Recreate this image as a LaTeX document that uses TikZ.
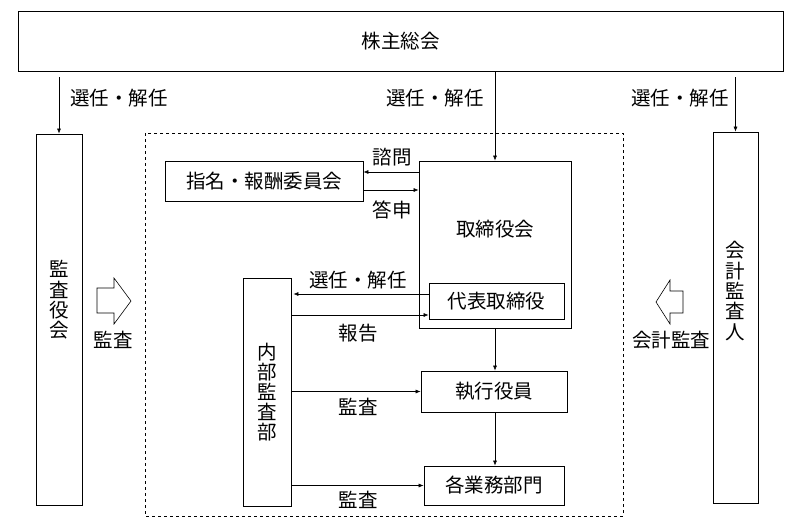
\documentclass[tikz,border=0pt]{standalone}
\usepackage{fontspec}
\setmainfont{Noto Sans CJK JP}
\usetikzlibrary{arrows.meta,calc}

\begin{document}
\begin{tikzpicture}[x=1pt,y=-1pt,
    box/.style={draw,line width=0.8pt,inner sep=0pt,align=center,font=\fontsize{19.5}{20}\selectfont},
    txt/.style={inner sep=0pt,font=\fontsize{19.5}{20.3}\selectfont,align=center},
    arr/.style={-{Latex[length=5pt,width=4pt]},line width=0.6pt}]
\useasboundingbox (0,0) rectangle (795,523);
\draw[line width=0.6pt,dashed] (145,133) rectangle (623,516);
% boxes
\node[box,minimum width=765pt,minimum height=60pt] (soukai) at (400.5,41) {株主総会};
\node[box,minimum width=46pt,minimum height=371pt] (kansayaku) at (59,319.5) {};
\node[txt] (kansayakut) at (59,300) {監\\査\\役\\会};
\node[box,minimum width=45pt,minimum height=371pt] (kaikei) at (735.5,317.5) {};
\node[txt] (kaikeit) at (735.5,291) {会\\計\\監\\査\\人};
\node[box,minimum width=152pt,minimum height=167pt] (torishimari) at (495,244.5) {};
\node[txt] (torishimarit) at (495,229) {取締役会};
\node[box,minimum width=198pt,minimum height=40pt] (shimei) at (264,181) {指名・報酬委員会};
\node[box,minimum width=135pt,minimum height=36pt] (daihyo) at (496.5,301) {代表取締役};
\node[box,minimum width=48pt,minimum height=228pt] (naibu) at (267,392) {内\\部\\監\\査\\部};
\node[box,minimum width=146pt,minimum height=41pt] (shikko) at (494,391.5) {執行役員};
\node[box,minimum width=140pt,minimum height=39pt] (gyomu) at (494,485.5) {各業務部門};
% arrows
\draw[arr] ($(soukai.south -| kansayaku.north)+(0,6)$) -- (kansayaku.north);
\draw[arr] ($(soukai.south -| kaikei.north)+(0,6)$) -- (kaikei.north);
\draw[arr] (soukai.south -| torishimari.north) -- (torishimari.north);
\draw[arr] (torishimari.west |- 0,172) -- (shimei.east |- 0,172);
\draw[arr] (shimei.east |- 0,190) -- (torishimari.west |- 0,190);
\draw[arr] (daihyo.west |- 0,294) -- ($(naibu.east |- 0,294)+(2,0)$);
\draw[arr] (naibu.east |- 0,315) -- (daihyo.west |- 0,315);
\draw[arr] (torishimari.south) -- (shikko.north -| torishimari.south);
\draw[arr] (shikko.south -| torishimari.south) -- (gyomu.north -| torishimari.south);
\draw[arr] (naibu.east |- shikko.center) -- (shikko.west);
\draw[arr] (naibu.east |- gyomu.center) -- (gyomu.west);
% labels
\node[txt] (l1) at (119,98) {選任・解任};
\node[txt] (l2) at (435,98) {選任・解任};
\node[txt] (l3) at (680,98) {選任・解任};
\node[txt] (l4) at (392,157) {諮問};
\node[txt] (l5) at (392,210) {答申};
\node[txt] (l6) at (358,280) {選任・解任};
\node[txt] (l7) at (358,333) {報告};
\node[txt] (l8) at (358,407) {監査};
\node[txt] (l9) at (358,500) {監査};
\node[txt] (l10) at (113,340) {監査};
\node[txt] (l11) at (671,340) {会計監査};
% block arrows
\draw[line width=0.6pt] (97,288) -- (114,288) -- (114,278) -- (131,301) -- (114,324) -- (114,313) -- (97,313) -- cycle;
\draw[line width=0.6pt] (683,291) -- (670,291) -- (670,280) -- (656,302) -- (670,324) -- (670,313) -- (683,313) -- cycle;
\end{tikzpicture}
\end{document}
